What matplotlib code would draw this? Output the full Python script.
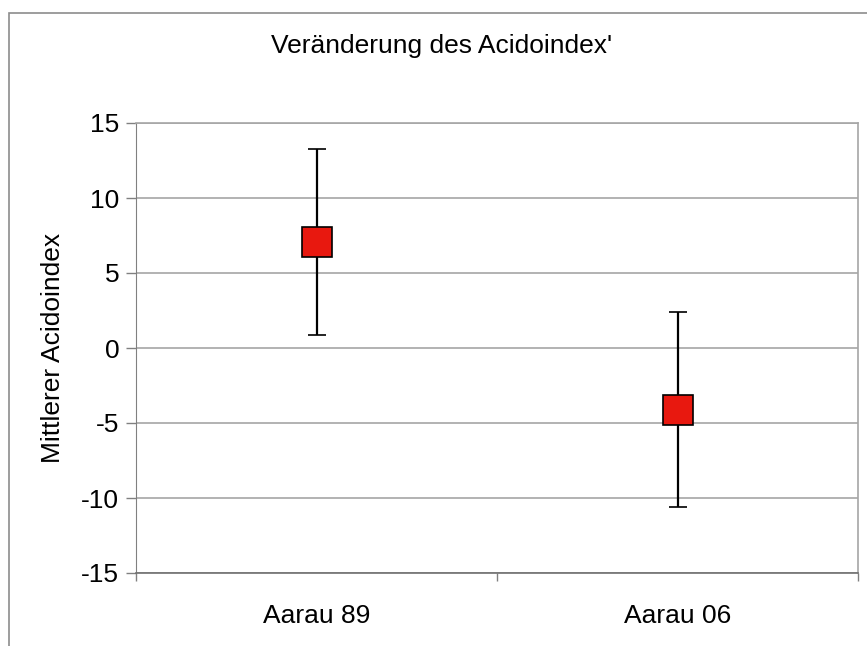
import matplotlib.pyplot as plt
from matplotlib.patches import Rectangle

# values
groups = ["Aarau 89", "Aarau 06"]
means = [7.1, -4.1]
errors = [6.2, 6.5]
yticks = [-15, -10, -5, 0, 5, 10, 15]

plt.rcParams["font.family"] = ["Liberation Sans", "DejaVu Sans"]

W, H = 867, 646
fig = plt.figure(figsize=(W / 100, H / 100), dpi=100)
ax = fig.add_axes([136 / W, 1 - 573 / H, (858 - 136) / W, (573 - 123) / H])

# outer chart border (Excel style)
fig.patches.append(Rectangle((9 / W, -0.1), 1.2, 1 - 13 / H + 0.1,
                             transform=fig.transFigure, fill=False,
                             edgecolor="#8c8c8c", linewidth=1.2))

x = list(range(len(groups)))
ax.errorbar(x, means, yerr=errors, fmt="s", color="black", ecolor="black",
            elinewidth=1.6, capsize=6.5, capthick=1.6,
            markersize=22, markerfacecolor="#e8180f",
            markeredgecolor="black", markeredgewidth=1.2, zorder=3)

ax.set_xlim(-0.5, len(groups) - 0.5)
ax.set_ylim(-15, 15)
ax.set_yticks(yticks)
ax.set_yticklabels([str(v) for v in yticks])
ax.set_xticks(x)
ax.set_xticklabels(groups)
ax.set_xticks([-0.5, 0.5, 1.5], minor=True)
ax.tick_params(axis="x", which="major", length=0, labelsize=19, pad=22)
ax.tick_params(axis="x", which="minor", length=6, color="#808080", width=1)
ax.tick_params(axis="y", length=7, color="#808080", width=1, labelsize=19, pad=5)

ax.yaxis.grid(True, color="#a6a6a6", linewidth=1.2)
ax.set_axisbelow(True)
for side in ["top", "right"]:
    ax.spines[side].set_color("#a6a6a6")
    ax.spines[side].set_linewidth(1.2)
ax.spines["left"].set_color("#808080")
ax.spines["bottom"].set_color("#707070")
ax.spines["bottom"].set_linewidth(1.2)

ax.set_ylabel("Mittlerer Acidoindex", fontsize=19, labelpad=12)
fig.text(442 / W, 1 - 46 / H, "Veränderung des Acidoindex'", fontsize=19,
         ha="center", va="center")

fig.savefig("out.png", dpi=100, facecolor="white")
